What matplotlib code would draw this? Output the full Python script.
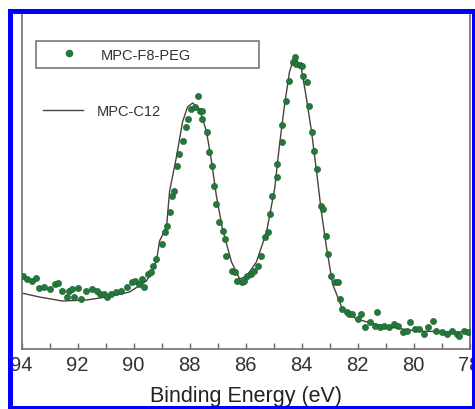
import matplotlib
matplotlib.use("Agg")
import matplotlib.pyplot as plt
from matplotlib.lines import Line2D
from matplotlib.patches import Rectangle
from matplotlib.ticker import MultipleLocator

plt.rcParams['font.family'] = ['Liberation Sans', 'DejaVu Sans']

# MPC-C12 (line), binding energy in eV and intensity (arb. units)
c12_energy = [94.0, 93.36, 92.54, 91.68, 90.96, 90.14, 89.54, 89.43, 89.18,
              89.07, 88.82, 88.71, 88.61, 88.46, 88.25, 88.07, 87.89, 87.64,
              87.39, 87.21, 87.04, 86.82, 86.50, 86.21, 85.96, 85.61, 85.25,
              84.96, 84.79, 84.61, 84.43, 84.25, 84.00, 83.82, 83.64, 83.46,
              83.29, 83.11, 82.89, 82.57, 82.04, 81.11, 79.89, 78.71, 78.07]
c12_counts = [56, 52, 48, 49, 52, 57, 68, 73, 88,
              108, 122, 158, 172, 193, 227, 242, 246, 240,
              217, 187, 153, 120, 87, 70, 73, 87, 117,
              160, 203, 243, 277, 293, 280, 250, 217, 177,
              137, 102, 65, 42, 30, 23, 18, 17, 17]

# MPC-F8-PEG (dots)
peg_energy = [93.96, 93.79, 93.61, 93.50, 93.36, 93.18, 93.00, 92.82, 92.71,
              92.54, 92.39, 92.29, 92.18, 92.11, 92.00, 91.86, 91.68, 91.50,
              91.32, 91.21, 91.04, 90.93, 90.79, 90.61, 90.43, 90.25, 90.07,
              89.96, 89.79, 89.68, 89.61, 89.50, 89.36, 89.32, 89.18, 89.00,
              88.89, 88.82, 88.71, 88.61, 88.54, 88.43, 88.36, 88.25, 88.11,
              88.07, 87.93, 87.82, 87.71, 87.64, 87.57, 87.54, 87.39, 87.32,
              87.21, 87.14, 87.04, 86.93, 86.82, 86.75, 86.68, 86.50, 86.39,
              86.29, 86.14, 86.04, 85.93, 85.79, 85.68, 85.57, 85.43, 85.32,
              85.21, 85.14, 85.04, 84.89, 84.86, 84.71, 84.68, 84.54, 84.43,
              84.32, 84.25, 84.18, 84.07, 84.00, 83.96, 83.82, 83.75, 83.61,
              83.54, 83.43, 83.32, 83.25, 83.14, 83.04, 82.93, 82.82, 82.71,
              82.61, 82.54, 82.39, 82.29, 82.18, 82.00, 81.86, 81.75, 81.57,
              81.39, 81.32, 81.21, 81.04, 80.86, 80.68, 80.57, 80.39, 80.25,
              80.14, 79.96, 79.79, 79.61, 79.50, 79.32, 79.18, 79.00, 78.82,
              78.61, 78.46, 78.36, 78.18, 78.07]
peg_counts = [73, 70, 68, 71, 61, 62, 60, 65, 66,
              58, 52, 58, 60, 52, 61, 50, 58, 60,
              58, 55, 55, 52, 55, 57, 58, 62, 67,
              68, 65, 70, 62, 75, 77, 83, 90, 105,
              117, 123, 137, 153, 158, 183, 195, 208, 222,
              230, 240, 242, 253, 238, 238, 230, 217, 197,
              183, 163, 145, 127, 118, 110, 93, 78, 77,
              68, 67, 68, 73, 75, 78, 83, 93, 112,
              117, 135, 153, 172, 185, 207, 224, 248, 268,
              287, 292, 285, 284, 283, 273, 267, 243, 217,
              198, 180, 143, 140, 113, 95, 73, 67, 67,
              50, 40, 37, 35, 35, 30, 35, 22, 27,
              23, 37, 22, 23, 22, 25, 23, 17, 18,
              27, 20, 20, 15, 22, 28, 18, 17, 15,
              18, 15, 13, 18, 17]

x_ticks = [94, 92, 90, 88, 86, 84, 82, 80, 78]

W, H = 475, 410
fig = plt.figure(figsize=(W / 100, H / 100), dpi=100)
ax = fig.add_axes([21.5 / W, 1 - 350 / H, 448 / W, 337 / H])

line_color = '#4e3f3f'
dot_color = '#23793a'

ax.plot(c12_energy, c12_counts, color=line_color, lw=1.0, zorder=2)
ax.scatter(peg_energy, peg_counts, s=20, color=dot_color,
           edgecolors='#1a5e2c', linewidths=0.4, zorder=3)

ax.set_xlim(94, 78)
ax.set_ylim(0, 337)
ax.set_xticks(x_ticks)
ax.xaxis.set_minor_locator(MultipleLocator(1))
ax.set_yticks([])
ax.tick_params(axis='x', which='both', direction='in', length=4,
               width=1, color='#6e6262', labelsize=14.5,
               labelcolor='#333333', pad=4)
for side in ['left', 'right', 'bottom']:
    ax.spines[side].set_color('#7a6e6e')
    ax.spines[side].set_linewidth(1.2)
ax.spines['top'].set_visible(False)
ax.set_xlabel('Binding Energy (eV)', fontsize=15.5, color='#222222',
              labelpad=8)

# boxed legend for the dots
h1 = Line2D([], [], ls='none', marker='o', ms=4.5, color=dot_color)
leg1 = fig.legend([h1], ['MPC-F8-PEG'], loc='upper left',
                  bbox_to_anchor=(36 / W, 1 - 70 / H, 223 / W, 28 / H),
                  mode='expand', fontsize=10.5, frameon=True, fancybox=False,
                  edgecolor='#555555', borderpad=0.45, handlelength=3.6,
                  handletextpad=0.4, borderaxespad=0)
leg1.get_frame().set_linewidth(1.2)
for t in leg1.get_texts():
    t.set_color('#333333')

# plain legend for the line
h2 = Line2D([], [], color=line_color, lw=1.0)
leg2 = fig.legend([h2], ['MPC-C12'], loc='center left',
                  bbox_to_anchor=(43 / W, 1 - 112 / H), fontsize=10.5,
                  frameon=False, borderpad=0, handlelength=2.75,
                  handletextpad=0.95, borderaxespad=0)
for t in leg2.get_texts():
    t.set_color('#333333')

# blue border round the picture
fig.patches.append(Rectangle((9.5 / W, 1.5 / H), (474 - 9.5) / W, (398 - 1.5) / H,
                             transform=fig.transFigure, fill=False,
                             edgecolor='#0000ff', lw=3.6, zorder=10))

fig.savefig('out.png', dpi=100, facecolor='white')
